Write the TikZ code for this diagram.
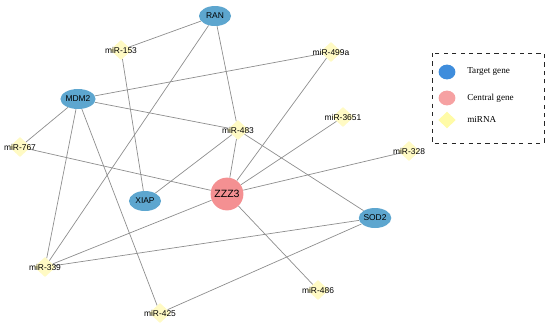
\documentclass[tikz,border=0pt]{standalone}
\usepackage{fontspec}
\setmainfont{Liberation Serif}
\newfontfamily\nodefont{Liberation Sans}
\usepackage{tikz}
\usetikzlibrary{positioning,shapes.geometric,backgrounds}
\definecolor{target}{HTML}{5DA6CF}
\definecolor{central}{HTML}{F49092}
\definecolor{mirfill}{HTML}{FFFAC4}
\definecolor{edgegray}{HTML}{8E8E8E}
\definecolor{legblue}{HTML}{3F8DDC}

\begin{document}
\begin{tikzpicture}[x=0.025cm,y=-0.025cm,
  gene/.style={ellipse,fill=target,minimum width=0.8cm,minimum height=0.5cm,inner sep=0pt,font=\nodefont\fontsize{6}{7}\selectfont},
  hub/.style={circle,fill=central,minimum size=0.82cm,inner sep=0pt,font=\nodefont\fontsize{7.5}{9}\selectfont},
  lbl/.style={font=\nodefont\fontsize{6}{7}\selectfont,inner sep=0pt},
  mirna/.style={diamond,fill=mirfill,minimum width=0.55cm,minimum height=0.5cm,inner sep=0pt,label={[lbl]center:#1}},
  edge/.style={edgegray,line width=0.5pt},
  legtext/.style={font=\fontsize{6.5}{8}\selectfont,inner sep=0pt,anchor=west}]
  \useasboundingbox (0,0) rectangle (550,325);
  % genes
  \node[gene] (ran) at (215,16) {RAN};
  \node[gene] (mdm2) at (78,99) {MDM2};
  \node[gene] (xiap) at (145,201) {XIAP};
  \node[gene] (sod2) at (375,218) {SOD2};
  \node[hub] (zzz3) at (227,194) {ZZZ3};
  % miRNAs
  \foreach \x/\y/\n/\t in {121/50/m153/miR-153, 331/52/m499a/miR-499a, 238/130/m483/miR-483,
      343/117/m3651/miR-3651, 20/147/m767/miR-767, 409/151/m328/miR-328,
      45/267/m339/miR-339, 160/313/m425/miR-425, 318/290/m486/miR-486}{
    \node[mirna=\t] (\n) at (\x,\y) {};}
  % interactions
  \begin{scope}[on background layer]
    \foreach \a/\b in {ran/m153, ran/m339, ran/m483, m153/xiap, mdm2/m499a, mdm2/m483,
        mdm2/m767, mdm2/m339, mdm2/m425, m767/zzz3, m483/xiap, m483/zzz3, m483/sod2,
        m499a/zzz3, m3651/zzz3, m328/zzz3, zzz3/m339, zzz3/m486, sod2/m339, sod2/m425}{
      \draw[edge] (\a)--(\b);}
  \end{scope}
  % legend
  \draw[dashed,line width=0.6pt,black!85] (432,53) rectangle (544,143);
  \node[ellipse,fill=legblue,minimum width=0.42cm,minimum height=0.37cm,inner sep=0pt] (legT) at (447,72) {};
  \node[ellipse,fill=central!85!white,minimum width=0.42cm,minimum height=0.37cm,inner sep=0pt] (legC) at (447,98) {};
  \node[diamond,fill=mirfill!85!yellow,minimum width=0.44cm,minimum height=0.42cm,inner sep=0pt] (legM) at (447,120) {};
  \node[legtext] at (467,71) {Target gene};
  \node[legtext] at (467,98) {Central gene};
  \node[legtext] at (467,119) {miRNA};
\end{tikzpicture}
\end{document}
